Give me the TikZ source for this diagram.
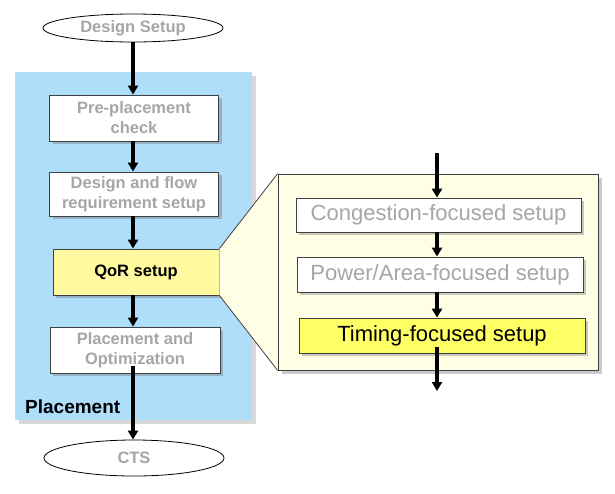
\documentclass[tikz,border=0pt]{standalone}
\usepackage{fontspec}
\setmainfont{Liberation Sans}
\usetikzlibrary{shapes.geometric,arrows.meta,shadows}
\definecolor{blueband}{RGB}{174,222,250}
\definecolor{qoryellow}{RGB}{255,250,160}
\definecolor{timyellow}{RGB}{255,255,102}
\definecolor{panelyellow}{RGB}{255,255,230}
\definecolor{greytext}{RGB}{166,166,166}
\definecolor{edgegrey}{RGB}{64,64,64}
\tikzset{
  shade3/.style={drop shadow={shadow xshift=3pt,shadow yshift=-3pt,opacity=0.35,fill=black!60}},
  leftbox/.style={draw=edgegrey,line width=0.8pt,fill=white,minimum width=169pt,minimum height=45pt,
    inner sep=0pt,align=center,font=\bfseries\fontsize{16.5}{20}\selectfont,text=greytext,shade3},
  rightbox/.style={draw=edgegrey,line width=0.8pt,fill=white,minimum width=286pt,minimum height=35pt,
    inner sep=0pt,align=center,font=\fontsize{22}{24}\selectfont,text=greytext,shade3},
  endcap/.style={ellipse,draw=black,line width=0.8pt,fill=white,minimum width=180pt,inner sep=0pt,
    font=\bfseries\fontsize{16.5}{20}\selectfont,text=greytext},
  arr/.style={line width=3.4pt,-{Triangle[length=9pt,width=10pt]}},
}
\begin{document}
\begin{tikzpicture}[x=1pt,y=-1pt]
\useasboundingbox (0,0) rectangle (615,493);
% blue placement region
\fill[blueband,drop shadow={shadow xshift=4pt,shadow yshift=-4pt,opacity=0.3,fill=black!50}] (15,72) rectangle (252,420);
\node[anchor=west,font=\bfseries\fontsize{19}{22}\selectfont,text=black,inner sep=0pt] (plab) at (25,407) {Placement};
% nodes left
\node[endcap,minimum height=28pt] (ds) at (133,28) {Design Setup};
\node[leftbox,minimum height=46pt] (ppc) at (134,118) {Pre-placement\\check};
\node[leftbox,minimum height=44pt] (dfr) at (134,194) {Design and flow\\requirement setup};
\node[leftbox,minimum width=166pt,minimum height=46pt,fill=qoryellow,text=black] (qor) at (136,272) {QoR setup};
\node[leftbox,minimum width=170pt,minimum height=46pt] (po) at (135,350) {Placement and\\Optimization};
\node[endcap,minimum height=36pt] (cts) at (134,458) {CTS};
% zoom panel and funnel
\node[draw=edgegrey,line width=0.8pt,fill=panelyellow,minimum width=320pt,minimum height=196pt,inner sep=0pt,
  drop shadow={shadow xshift=4pt,shadow yshift=-4pt,opacity=0.35,fill=black!60}] (panel) at (438,272) {};
\fill[panelyellow] (qor.north east) -- (panel.north west) -- (panel.south west) -- (qor.south east) -- cycle;
\draw[edgegrey,line width=0.8pt] (qor.north east) -- (panel.north west);
\draw[edgegrey,line width=0.8pt] (qor.south east) -- (panel.south west);
\node[rightbox,minimum width=285pt,minimum height=34pt] (cong) at (438.5,215) {Congestion-focused setup};
\node[rightbox] (pow) at (440,274.5) {Power/Area-focused setup};
\node[rightbox,fill=timyellow,text=black] (tim) at (442,335.5) {Timing-focused setup};
% arrows left
\coordinate (lx) at (133,0);
\coordinate (poout) at (133,366);
\draw[arr] (ds.south -| lx) -- (ppc.north -| lx);
\draw[arr] (ppc.south -| lx) -- (dfr.north -| lx);
\draw[arr] (dfr.south -| lx) -- (qor.north -| lx);
\draw[arr] (qor.south -| lx) -- (po.north -| lx);
\draw[arr] (poout) -- (cts.north -| lx);
% arrows right
\coordinate (rx) at (437,0);
\coordinate (rin) at (437,153);
\coordinate (timout) at (437,347);
\coordinate (rend) at (437,391);
\draw[arr] (rin) -- (cong.north -| rx);
\draw[arr] (cong.south -| rx) -- (pow.north -| rx);
\draw[arr] (pow.south -| rx) -- (tim.north -| rx);
\draw[arr] (timout) -- (rend);
\end{tikzpicture}
\end{document}
